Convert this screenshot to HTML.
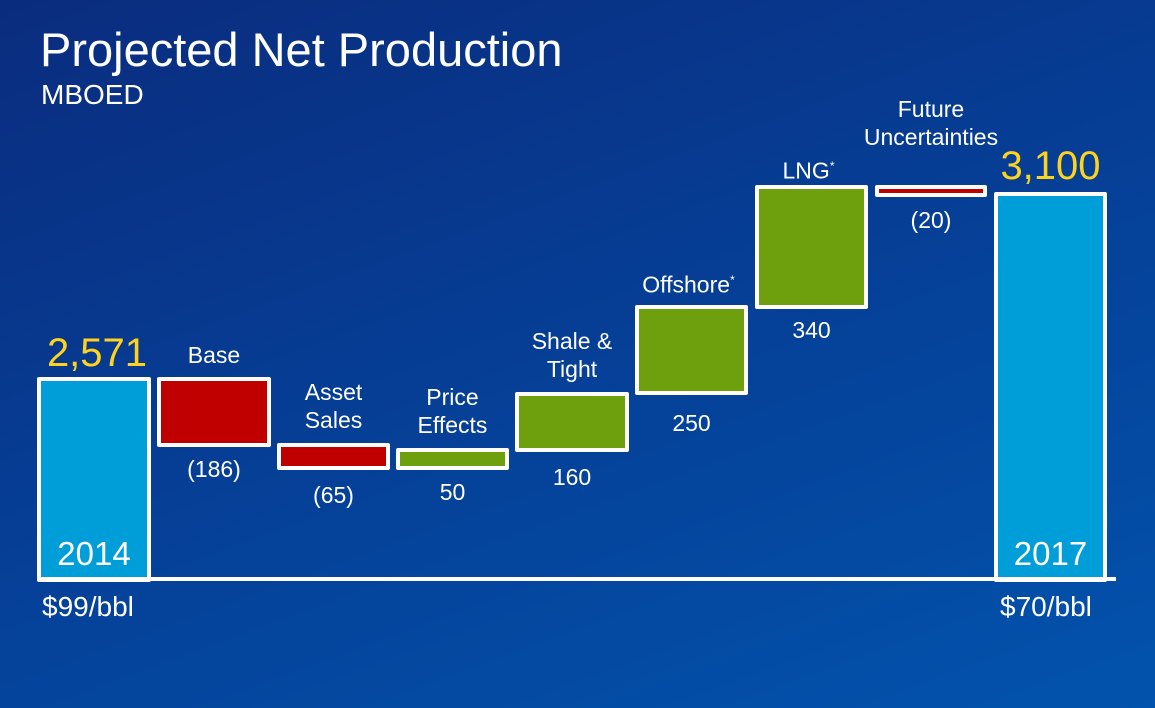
<!DOCTYPE html>
<html><head><style>
body{margin:0}
#c{position:relative;width:1155px;height:708px;overflow:hidden;background:linear-gradient(160deg,#0a2c7e 0%,#063d94 45%,#0253ad 100%);font-family:"Liberation Sans",sans-serif;color:#fff}
.b{position:absolute;box-sizing:border-box;border:4px solid #fff;border-radius:2px}
.t{position:absolute;text-align:center;font-size:23px;line-height:28px;white-space:nowrap}
.bl{background:#009ed8}.r{background:#c00000}.g{background:#6e9f0c}
.y{color:#ffd21e;font-size:40px;line-height:40px}
sup{font-size:12px}
</style></head><body><div id="c">
<div style="position:absolute;left:40px;top:22px;font-size:47px">Projected Net Production</div>
<div style="position:absolute;left:41px;top:79px;font-size:28px">MBOED</div>

<div class="b bl" style="left:37px;top:377px;width:114px;height:205px"></div>
<div class="b r" style="left:157px;top:377px;width:114px;height:70px"></div>
<div class="b r" style="left:277px;top:443px;width:113px;height:27px"></div>
<div class="b g" style="left:396px;top:448px;width:113px;height:22px"></div>
<div class="b g" style="left:515px;top:392px;width:114px;height:60px"></div>
<div class="b g" style="left:635px;top:305px;width:113px;height:90px"></div>
<div class="b g" style="left:755px;top:185px;width:113px;height:124px"></div>
<div class="b r" style="left:875px;top:185px;width:112px;height:12px"></div>
<div class="b bl" style="left:994px;top:192px;width:113px;height:390px"></div>
<div style="position:absolute;left:38px;top:577px;width:1078px;height:4px;background:#fff"></div>

<div class="t y" style="left:37px;width:120px;top:333px">2,571</div>
<div class="t y" style="left:988px;width:125px;top:146px">3,100</div>
<div class="t" style="left:37px;width:114px;top:537px;font-size:33px;line-height:34px">2014</div>
<div class="t" style="left:994px;width:113px;top:537px;font-size:33px;line-height:34px">2017</div>
<div class="t" style="left:42px;top:592px;font-size:28px;line-height:30px">$99/bbl</div>
<div class="t" style="left:1000px;top:592px;font-size:28px;line-height:30px">$70/bbl</div>

<div class="t" style="left:157px;width:114px;top:341px">Base</div>
<div class="t" style="left:157px;width:114px;top:455px">(186)</div>
<div class="t" style="left:277px;width:113px;top:378px">Asset<br>Sales</div>
<div class="t" style="left:277px;width:113px;top:481px">(65)</div>
<div class="t" style="left:396px;width:113px;top:383px">Price<br>Effects</div>
<div class="t" style="left:396px;width:113px;top:478px">50</div>
<div class="t" style="left:515px;width:114px;top:327px">Shale &amp;<br>Tight</div>
<div class="t" style="left:515px;width:114px;top:463px">160</div>
<div class="t" style="left:632px;width:113px;top:266px">Offshore<sup>*</sup></div>
<div class="t" style="left:635px;width:113px;top:409px">250</div>
<div class="t" style="left:752px;width:113px;top:152px">LNG<sup>*</sup></div>
<div class="t" style="left:755px;width:113px;top:316px">340</div>
<div class="t" style="left:860px;width:142px;top:95px">Future<br>Uncertainties</div>
<div class="t" style="left:875px;width:112px;top:206px">(20)</div>
</div></body></html>
